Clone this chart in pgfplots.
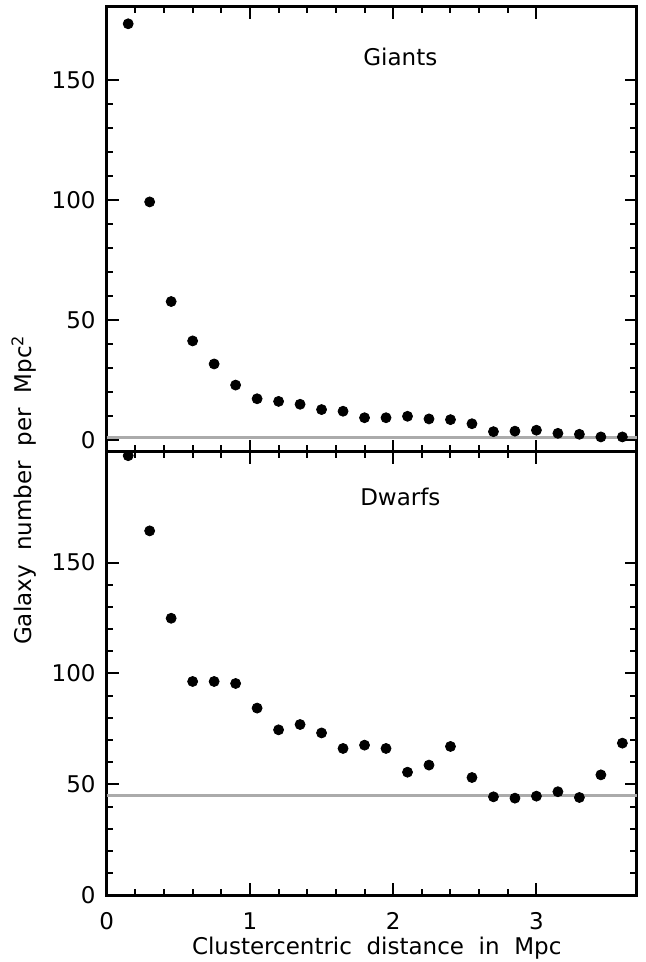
\documentclass[border=0pt]{standalone}
\usepackage{fontspec}
\setmainfont{DejaVu Sans}
\newfontfamily\labfont[WordSpace=2]{DejaVu Sans}
\usepackage{pgfplots}
\usepackage{pgfplotstable}
\pgfplotsset{compat=1.18}
\pgfplotstableread{
x y
0.15 173.5
0.30 99.3
0.45 57.8
0.60 41.4
0.75 31.8
0.90 23.0
1.05 17.3
1.20 16.2
1.35 15.0
1.50 12.8
1.65 12.1
1.80 9.4
1.95 9.4
2.10 10.0
2.25 8.9
2.40 8.6
2.55 6.9
2.70 3.6
2.85 3.8
3.00 4.2
3.15 2.9
3.30 2.5
3.45 1.4
3.60 1.4
}\giants
\pgfplotstableread{
x y
0.15 198.2
0.30 164.3
0.45 124.9
0.60 96.4
0.75 96.4
0.90 95.5
1.05 84.4
1.20 74.6
1.35 77.0
1.50 73.2
1.65 66.2
1.80 67.7
1.95 66.2
2.10 55.5
2.25 58.7
2.40 67.1
2.55 53.1
2.70 44.4
2.85 43.8
3.00 44.7
3.15 46.7
3.30 44.1
3.45 54.3
3.60 68.6
}\dwarfs
\begin{document}
\begin{tikzpicture}
\path[use as bounding box] (-53.35pt,-33.35pt) rectangle (269.15pt,447.65pt);
\pgfplotsset{
  panel/.style={
    scale only axis, width=265pt,
    xmin=0, xmax=3.7,
    xtick={0,1,2,3}, minor x tick num=4,
    minor y tick num=4,
    tick align=inside,
    major tick length=6pt, minor tick length=3.2pt,
    every tick/.style={black, line width=1pt},
    axis line style={line width=1.5pt},
    tick label style={font=\fontsize{11.5}{14}\selectfont},
    yticklabel style={xshift=-2pt},
    xticklabel style={yshift=-5pt},
    /pgf/number format/assume math mode=true,
    clip=false,
  }
}
\begin{axis}[panel, at={(0pt,221.8pt)}, anchor=south west, height=222.35pt,
  ymin=-4.75, ymax=180.5, ytick={0,50,100,150}, xticklabels={}]
\addplot[color=black!33, line width=1.4pt] coordinates {(0,1.1) (3.7,1.1)};
\addplot[only marks, mark=*, mark size=2.5pt, black] table {\giants};
\node[anchor=base, font=\fontsize{11.5}{14}\selectfont] at (axis cs:2.05,156) {Giants};
\end{axis}
\begin{axis}[panel, at={(0pt,0pt)}, anchor=south west, height=221.8pt,
  ymin=0, ymax=200, ytick={0,50,100,150}]
\addplot[color=black!33, line width=1.4pt] coordinates {(0,44.9) (3.7,44.9)};
\addplot[only marks, mark=*, mark size=2.5pt, black] table {\dwarfs};
\node[anchor=base, font=\fontsize{11.5}{14}\selectfont] at (axis cs:2.05,175.8) {Dwarfs};
\end{axis}
\node[rotate=90, anchor=base, font=\labfont\fontsize{11.5}{14}\selectfont] at (-37.35pt,202.65pt) {Galaxy number per Mpc\textsuperscript{2}};
\node[anchor=base, font=\labfont\fontsize{11.5}{14}\selectfont] at (135pt,-29.55pt) {Clustercentric distance in Mpc};
\end{tikzpicture}
\end{document}
